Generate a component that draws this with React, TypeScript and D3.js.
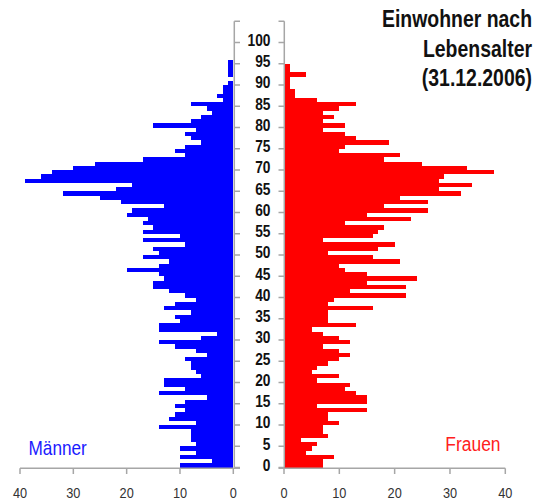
import React from "react";
import * as d3 from "d3";

const ages = d3.range(0, 97);
// Männer (ages 0..95)
const maleValues = [
  10, 4, 10, 7, 10, 7, 8, 8, 8, 14,
  7, 12, 11, 9, 11, 9, 5, 14, 9, 13,
  13, 6, 7, 8, 8, 9, 5, 7, 11, 14,
  6, 3, 14, 14, 10, 11, 8, 13, 11, 7,
  9, 12, 15, 15, 13, 14, 20, 14, 12, 17,
  14, 15, 9, 17, 10, 17, 15, 17, 16, 20,
  19, 13, 21, 25, 32, 22, 19, 39, 36, 34,
  30, 26, 17, 9, 11, 9, 6, 8, 9, 7,
  15, 8, 6, 4, 5, 8, 2, 3, 2, 2,
  1, 0, 1, 1, 1, 1,
];
// Frauen (ages 0..94)
const femaleValues = [
  7, 7, 9, 4, 5, 6, 3, 8, 7, 7,
  10, 8, 8, 15, 6, 15, 15, 13, 11, 12,
  6, 10, 5, 6, 8, 10, 12, 10, 7, 12,
  10, 7, 5, 13, 8, 8, 8, 16, 8, 9,
  22, 12, 22, 15, 24, 15, 11, 10, 21, 16,
  8, 17, 20, 7, 16, 17, 18, 11, 23, 15,
  26, 18, 26, 21, 32, 28, 34, 28, 29, 38,
  33, 25, 18, 21, 10, 11, 19, 13, 11, 7,
  11, 7, 9, 7, 10, 13, 6, 2, 2, 1,
  1, 1, 4, 1, 1,
];
const ageTicks = d3.range(0, 101, 5);
const valueTicks = [0, 10, 20, 30, 40];
const titleLines = ["Einwohner nach", "Lebensalter", "(31.12.2006)"];

const W = 538;
const H = 502;
const AXIS = "#a6a6a6";
const FONT = "'Liberation Sans', Arial, sans-serif";

function NText(props: {
  x: number; y: number; sx: number; size: number; anchor?: string; weight?: string; fill: string; children: any;
}) {
  const { x, y, sx, size, anchor, weight, fill, children } = props;
  return (
    <text
      transform={`translate(${x},${y}) scale(${sx},1)`}
      textAnchor={anchor || "start"}
      fontFamily={FONT}
      fontSize={size}
      fontWeight={weight || "normal"}
      fill={fill}
    >
      {children}
    </text>
  );
}

export default function App() {
  const xL = d3.scaleLinear().domain([0, 40]).range([233.3, 20]);
  const xR = d3.scaleLinear().domain([0, 40]).range([284, 505.3]);
  const y = d3.scaleLinear().domain([-0.5, 104.5]).range([467.5, 21.25]);
  const bh = y(0) - y(1);

  return (
    <svg width={W} height={H} style={{ position: "absolute", left: 0, top: 0, background: "#fff" }}>
      {/* male bars */}
      {maleValues.map((v, i) =>
        v > 0 ? (
          <rect key={"m" + i} x={xL(v)} y={y(ages[i] + 0.5)} width={xL(0) - xL(v)} height={bh} fill="#0000ff" shapeRendering="crispEdges" />
        ) : null
      )}
      {/* female bars */}
      {femaleValues.map((v, i) =>
        v > 0 ? (
          <rect key={"f" + i} x={xR(0)} y={y(ages[i] + 0.5)} width={xR(v) - xR(0)} height={bh} fill="#ff0000" shapeRendering="crispEdges" />
        ) : null
      )}

      {/* vertical axes */}
      <line x1={234.3} x2={234.3} y1={y(104.5)} y2={y(-0.5)} stroke={AXIS} strokeWidth={1.5} />
      <line x1={284.3} x2={284.3} y1={y(104.5)} y2={y(-0.5)} stroke={AXIS} strokeWidth={1.5} />
      {[...ageTicks, 105].map((a) => (
        <g key={"t" + a}>
          <line x1={234.3} x2={240} y1={y(a - 0.5)} y2={y(a - 0.5)} stroke={AXIS} strokeWidth={1.5} />
          <line x1={278.5} x2={284.3} y1={y(a - 0.5)} y2={y(a - 0.5)} stroke={AXIS} strokeWidth={1.5} />
        </g>
      ))}
      {ageTicks.map((a) => (
        <NText key={"al" + a} x={270.5} y={y(a) + 5.5} sx={0.86} size={16} anchor="end" weight="bold" fill="#111">
          {a}
        </NText>
      ))}

      {/* bottom axes */}
      <line x1={xL(40)} x2={240} y1={468.3} y2={468.3} stroke={AXIS} strokeWidth={1.5} />
      <line x1={278.5} x2={xR(40)} y1={468.3} y2={468.3} stroke={AXIS} strokeWidth={1.5} />
      {valueTicks.map((t) => (
        <g key={"vt" + t}>
          <line x1={xL(t)} x2={xL(t)} y1={468.3} y2={474} stroke={AXIS} strokeWidth={1.5} />
          <line x1={xR(t)} x2={xR(t)} y1={468.3} y2={474} stroke={AXIS} strokeWidth={1.5} />
          <NText x={xL(t)} y={498} sx={0.85} size={15} anchor="middle" fill="#333">{t}</NText>
          <NText x={xR(t)} y={498} sx={0.85} size={15} anchor="middle" fill="#333">{t}</NText>
        </g>
      ))}

      {/* legend labels */}
      <NText x={28.5} y={455} sx={0.82} size={21} fill="#1a1aff">Männer</NText>
      <NText x={500.5} y={450.5} sx={0.83} size={21} anchor="end" fill="#ff2020">Frauen</NText>

      {/* title */}
      {titleLines.map((l, i) => (
        <NText key={"tl" + i} x={532} y={27 + i * 29.5} sx={0.845} size={23} anchor="end" weight="bold" fill="#111">
          {l}
        </NText>
      ))}
    </svg>
  );
}
